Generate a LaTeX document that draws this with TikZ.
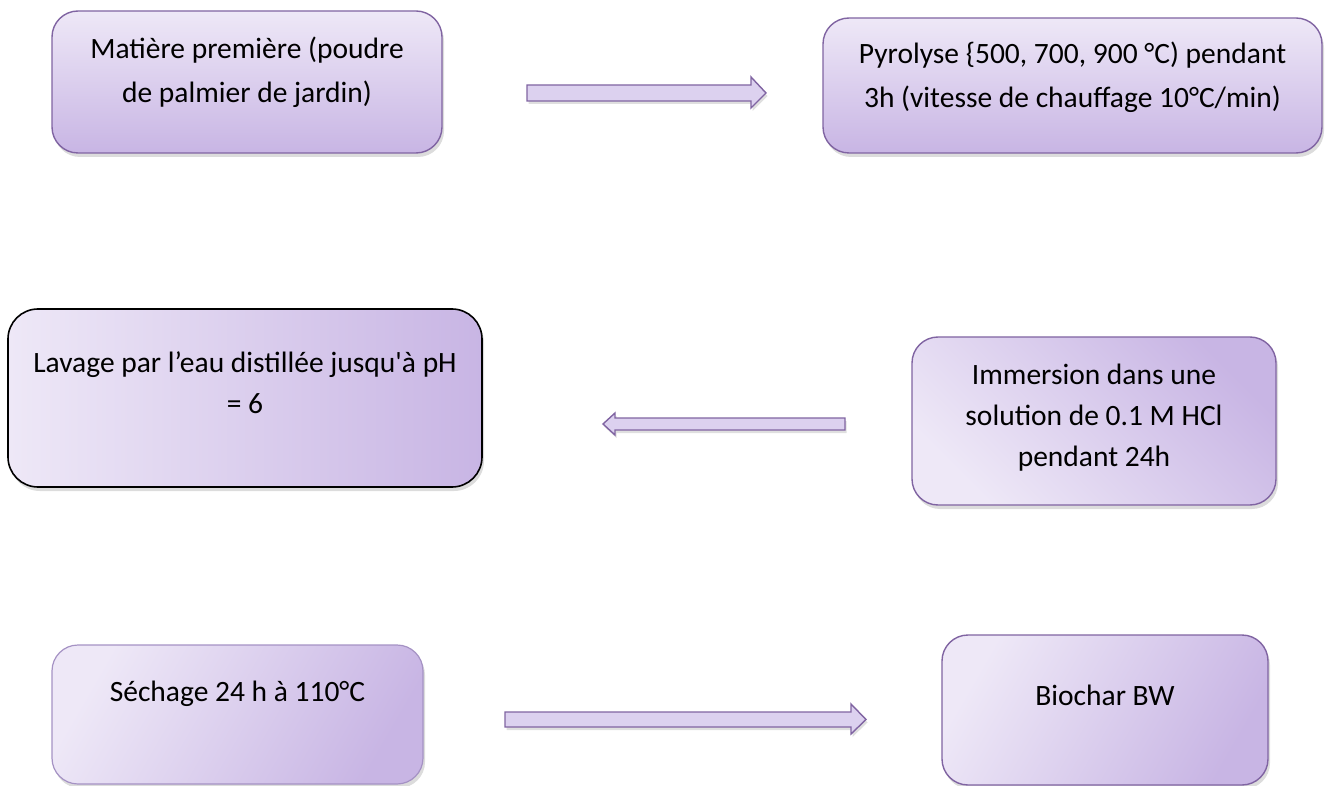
\documentclass[tikz,border=0pt]{standalone}
\usepackage{fontspec}
\setmainfont{Carlito}
\usetikzlibrary{shadows}
\definecolor{bord}{HTML}{8064A2}
\definecolor{lite}{HTML}{EEE8F7}
\definecolor{dark}{HTML}{C8B5E4}
\definecolor{arrfill}{HTML}{DCD1EF}
\definecolor{bordlite}{HTML}{A592C4}
\tikzset{
  box/.style={draw=bord, line width=1.4pt, rounded corners=26pt, inner sep=0pt,
    drop shadow={opacity=0.28, shadow xshift=2pt, shadow yshift=-4pt}},
  vgrad/.style={top color=lite, bottom color=dark},
  hgrad/.style={left color=lite, right color=dark},
  txt/.style={font=\fontsize{29.5}{44}\selectfont, align=center, anchor=base, inner sep=0pt},
  txtb/.style={font=\fontsize{29.5}{41}\selectfont, align=center, anchor=base, inner sep=0pt},
  barrow/.style={draw=bord, line width=1.4pt, fill=arrfill, line join=miter,
    drop shadow={opacity=0.25, shadow xshift=1.5pt, shadow yshift=-3pt}}
}
\begin{document}
\begin{tikzpicture}[x=1pt,y=-1pt]
\useasboundingbox (0,0) rectangle (1328,786);
% boxes
\node[box, vgrad, minimum width=390pt, minimum height=142pt] (b1) at (247,82) {};
\node[box, vgrad, minimum width=499pt, minimum height=135pt] (b2) at (1072.5,85.5) {};
\node[box, hgrad, draw=black, line width=1.6pt, minimum width=474pt, minimum height=178pt, rounded corners=30pt] (b3) at (245,398) {};
\node[box, left color=lite, right color=dark, shading angle=135, minimum width=364pt, minimum height=168pt] (b4) at (1094,421) {};
\node[box, left color=lite, right color=dark, shading angle=60, draw=bordlite, line width=1.2pt, minimum width=371pt, minimum height=139pt] (b5) at (237.5,714.5) {};
\node[box, left color=lite, right color=dark, shading angle=60, minimum width=326pt, minimum height=150pt] (b6) at (1105,710) {};
% texts (anchor = baseline of last line)
\node[txt] (t1) at ([yshift=-92pt]b1.north) {Matière première (poudre\\de palmier de jardin)};
\node[txt] (t2) at ([yshift=-90pt]b2.north) {Pyrolyse \{500, 700, 900 °C) pendant\\3h (vitesse de chauffage 10°C/min)};
\node[txtb] (t3) at ([yshift=-105pt]b3.north) {Lavage par l’eau distillée jusqu\textquotesingle à pH\\= 6};
\node[txtb] (t4) at ([yshift=-130pt]b4.north) {Immersion dans une\\solution de 0.1 M HCl\\pendant 24h};
\node[txt] (t5) at ([yshift=-57pt]b5.north) {Séchage 24 h à 110°C};
\node[txt] (t6) at ([yshift=-71pt]b6.north) {Biochar BW};
% block arrows
\draw[barrow] (527,85) -- (751,85) -- (751,77) -- (766,93) -- (751,108) -- (751,101) -- (527,101) -- cycle;
\draw[barrow] (845,418) -- (615,418) -- (615,413) -- (603,424) -- (615,435) -- (615,430) -- (845,430) -- cycle;
\draw[barrow] (505,712) -- (851,712) -- (851,704) -- (866,719.5) -- (851,734) -- (851,727) -- (505,727) -- cycle;
\end{tikzpicture}
\end{document}
